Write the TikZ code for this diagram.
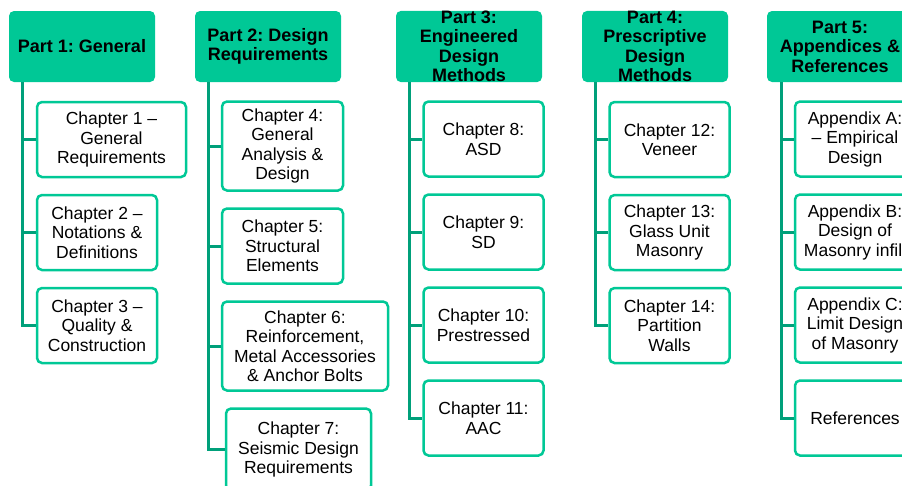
\documentclass[tikz,border=0pt]{standalone}
\usepackage{fontspec}
\setmainfont{Liberation Sans}
\usepackage{tikz}
\definecolor{partgreen}{RGB}{0,200,150}
\definecolor{linkgreen}{RGB}{0,160,122}
\frenchspacing

\begin{document}
\begin{tikzpicture}[x=1pt, y=-1pt]
\tikzstyle{every node} = [align=center, inner sep=0pt, rounded corners=5pt, font=\fontsize{17.5}{19.5}\selectfont]
\tikzstyle{part} = [fill=partgreen, minimum width=146pt, minimum height=71pt, font=\fontsize{18}{19.5}\selectfont\bfseries]
\tikzstyle{chap} = [draw=partgreen, line width=2.5pt, fill=white, minimum height=75pt]
\tikzstyle{link} = [draw=linkgreen, line width=3pt]
\useasboundingbox (0,0) rectangle (902,485);
\clip (0,0) rectangle (902,485);

% parts
\node[part] (p1) at (82, 46.5) {Part 1: General};
\node[part] (p2) at (268, 46.5) {Part 2: Design\\Requirements};
\node[part] (p3) at (469, 46.5) {Part 3:\\Engineered\\Design\\Methods};
\node[part] (p4) at (655, 46.5) {Part 4:\\Prescriptive\\Design\\Methods};
\node[part] (p5) at (840, 46.5) {Part 5:\\Appendices \&\\References};

% chapters
\node[chap, minimum width=149pt] (c1) at (111.5, 139.5) {Chapter 1 --\\General\\Requirements};
\node[chap, minimum width=120pt] (c2) at (97, 232.5) {Chapter 2 --\\Notations \&\\Definitions};
\node[chap, minimum width=120pt] (c3) at (97, 325.5) {Chapter 3 --\\Quality \&\\Construction};

\node[chap, minimum width=121pt, minimum height=89pt] (c4) at (282.5, 146) {Chapter 4:\\General\\Analysis \&\\Design};
\node[chap, minimum width=121pt] (c5) at (282.5, 246) {Chapter 5:\\Structural\\Elements};
\node[chap, minimum width=166pt, minimum height=89pt] (c6) at (305, 346) {Chapter 6:\\Reinforcement,\\Metal Accessories\\\& Anchor Bolts};
\node[chap, minimum width=145pt, minimum height=82pt] (c7) at (298.5, 449.5) {Chapter 7:\\Seismic Design\\Requirements};

\node[chap, minimum width=120pt] (c8) at (483.5, 139) {Chapter 8:\\ASD};
\node[chap, minimum width=120pt] (c9) at (483.5, 232) {Chapter 9:\\SD};
\node[chap, minimum width=120pt] (c10) at (483.5, 325) {Chapter 10:\\Prestressed};
\node[chap, minimum width=120pt] (c11) at (483.5, 418) {Chapter 11:\\AAC};

\node[chap, minimum width=120pt] (c12) at (669.5, 139.5) {Chapter 12:\\Veneer};
\node[chap, minimum width=120pt] (c13) at (669.5, 232.5) {Chapter 13:\\Glass Unit\\Masonry};
\node[chap, minimum width=120pt] (c14) at (669.5, 325.5) {Chapter 14:\\Partition\\Walls};

\node[chap, minimum width=120pt] (aa) at (855, 139) {Appendix A:\\-- Empirical\\Design};
\node[chap, minimum width=120pt] (ab) at (855, 232) {Appendix B:\\Design of\\Masonry infill};
\node[chap, minimum width=120pt] (ac) at (855, 325) {Appendix C:\\Limit Design\\of Masonry};
\node[chap, minimum width=120pt] (ref) at (855, 418) {References};

% connectors
\coordinate (t1) at (22, 82);
\coordinate (t2) at (208.5, 82);
\coordinate (t3) at (409, 82);
\coordinate (t4) at (595, 82);
\coordinate (t5) at (781, 82);

\foreach \from/\to in {t1/c1, t1/c2, t1/c3, t2/c4, t2/c5, t2/c6, t2/c7, t3/c8, t3/c9, t3/c10, t3/c11, t4/c12, t4/c13, t4/c14, t5/aa, t5/ab, t5/ac, t5/ref}
\draw[link] (\from) |- (\to.west);
\end{tikzpicture}
\end{document}
